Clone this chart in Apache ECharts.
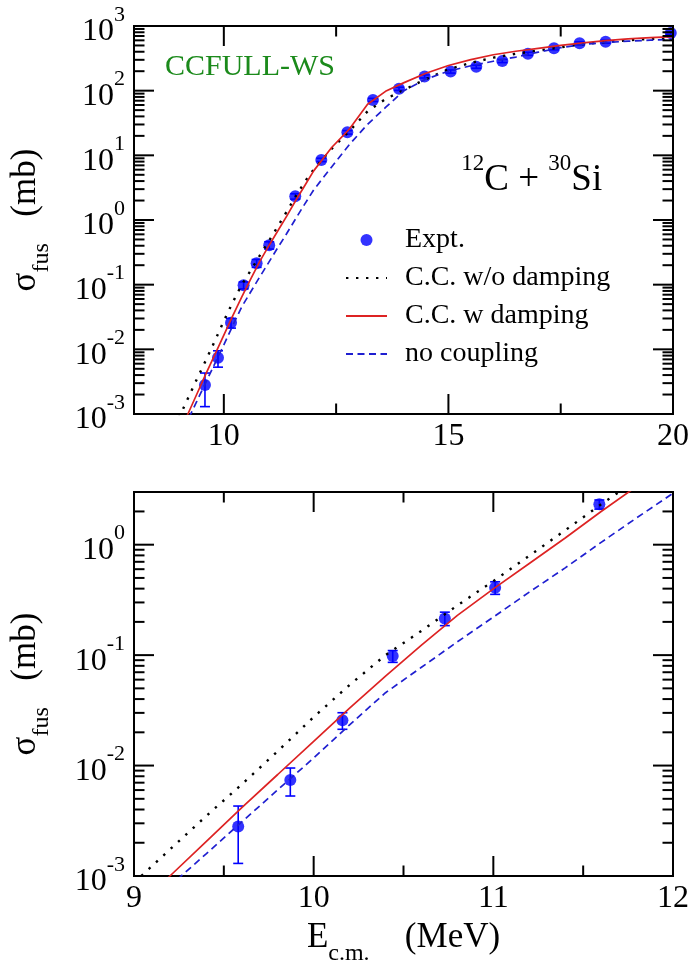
<!DOCTYPE html>
<html>
<head>
<meta charset="utf-8">
<script src="https://cdn.jsdelivr.net/npm/echarts@6/dist/echarts.min.js"></script>
<style>
  html, body { margin: 0; padding: 0; background: #fff; }
  #chart { width: 693px; height: 967px; }
</style>
</head>
<body>
<div id="chart"></div>
<script>
// Fusion excitation function for 12C + 30Si (CCFULL, Woods-Saxon potential)

// Measured cross sections (mb) with symmetric errors
const exptEnergy = [9.58, 9.87, 10.16, 10.44, 10.73, 11.01, 11.59, 12.17, 12.75, 13.32,
                    13.90, 14.47, 15.05, 15.62, 16.20, 16.77, 17.35, 17.92, 18.50, 19.95];
const exptSigma  = [2.8e-3, 7.4e-3, 0.0257, 0.098, 0.215, 0.408, 2.32, 8.5, 22.7, 72,
                    107, 166, 198, 235, 288, 372, 452, 540, 573, 780];
const exptError  = [1.5e-3, 2.1e-3, 4.4e-3, 0.012, 0.03, 0.053, 0.22, 0.5, 1.4, 4,
                    6, 9, 11, 13, 16, 20, 24, 28, 30, 40];

// Calculated cross sections (mb)
const curveEnergy = [9.0, 9.2, 9.4, 9.6, 9.8, 10.0, 10.2, 10.4, 10.6, 10.8, 11.0, 11.2, 11.4,
                     11.6, 11.8, 12.0, 12.4, 12.8, 13.2, 13.6, 14.0, 14.5, 15.0, 15.5, 16.0,
                     16.5, 17.0, 17.5, 18.0, 18.5, 19.0, 19.5, 20.0];
const sigmaNoDamping = [8.7e-4, 1.74e-3, 3.47e-3, 6.76e-3, 0.0135, 0.0275, 0.0537, 0.100, 0.166,
                        0.282, 0.468, 0.794, 1.35, 2.32, 3.89, 6.03, 12.6, 24.0, 47.9, 74.1,
                        102, 151, 214, 269, 324, 372, 417, 468, 525, 562, 603, 631, 661];
const sigmaDamping   = [4.8e-4, 1.0e-3, 2.04e-3, 4.17e-3, 8.3e-3, 0.0166, 0.0331, 0.0646, 0.123,
                        0.229, 0.398, 0.676, 1.15, 2.0, 3.39, 5.75, 13.2, 25.7, 61.7, 97.7,
                        132, 186, 245, 302, 359, 407, 452, 501, 550, 596, 631, 661, 684];
const sigmaNoCoupling = [4.2e-4, 8.1e-4, 1.58e-3, 3.09e-3, 6.03e-3, 0.0117, 0.0234, 0.0457, 0.0776,
                         0.132, 0.221, 0.372, 0.617, 1.05, 1.76, 2.92, 6.61, 14.8, 30.2, 55.0,
                         99, 151, 200, 243, 285, 331, 394, 462, 519, 556, 582, 603, 624];

// Axis ranges and ticks
const topXRange = [8, 20];
const topYRange = [1e-3, 1e3];
const bottomXRange = [9, 12];
const bottomYRange = [1e-3, 3];
const topXMajor = [10, 15, 20];
const topXMinor = [12.5, 17.5];
const topYMajor = [1e-3, 1e-2, 1e-1, 1, 10, 100, 1000];
const bottomXMajor = [9, 10, 11, 12];
const bottomXMinor = [9.5, 10.5, 11.5];
const bottomYMajor = [1e-3, 1e-2, 1e-1, 1];
const mantissas = [2, 3, 4, 5, 6, 7, 8, 9];

const serif = "'Liberation Serif', 'Times New Roman', serif";
const black = '#000';

function logMinor(decades, maxVal) {
  const out = [];
  decades.forEach(d => mantissas.forEach(m => {
    const v = m * d;
    if (v < maxVal) out.push(v);
  }));
  return out;
}
const topYMinor = logMinor(topYMajor.slice(0, -1), topYRange[1]);
const bottomYMinor = logMinor(bottomYMajor, bottomYRange[1]);

// Axis titles: base text on top of a tall line box, subscript sitting at its bottom
const titleRich = {
  z: { fontSize: 1, lineHeight: 46 },
  b: { fontFamily: serif, fontSize: 35, lineHeight: 35, color: black, verticalAlign: 'top' },
  s: { fontFamily: serif, fontSize: 24, lineHeight: 24, color: black, verticalAlign: 'bottom' }
};

function xAxis(gi, range, labels, extra) {
  return Object.assign({
    type: 'value', gridIndex: gi, min: range[0], max: range[1],
    splitLine: { show: false },
    axisLine: { show: true, onZero: false, lineStyle: { color: black, width: 2 } },
    axisTick: { show: false },
    axisLabel: { show: true, customValues: labels, margin: 7, color: black,
                 fontFamily: serif, fontSize: 32 }
  }, extra || {});
}

function yAxis(gi, range, labels) {
  return {
    type: 'log', logBase: 10, gridIndex: gi, min: range[0], max: range[1],
    splitLine: { show: false },
    axisLine: { show: true, onZero: false, lineStyle: { color: black, width: 2 } },
    axisTick: { show: false },
    axisLabel: {
      show: true, customValues: labels, margin: 9,
      formatter: v => '{z| }{b|10}{e|' + Math.round(Math.log10(v)) + '}',
      rich: {
        z: { fontSize: 1, lineHeight: 44 },
        b: { fontFamily: serif, fontSize: 32, lineHeight: 32, color: black, verticalAlign: 'bottom' },
        e: { fontFamily: serif, fontSize: 22, lineHeight: 22, color: black, verticalAlign: 'top' }
      }
    },
    name: '{b|σ}{s|fus}{z| }{b|   (mb)}',
    nameLocation: 'middle',
    nameGap: 80,
    nameTextStyle: { rich: titleRich }
  };
}

// Inward ticks on all four sides of a panel
function renderTicks(params, api) {
  const kind = api.value(2);
  const cs = params.coordSys;
  const p = api.coord([api.value(0), api.value(1)]);
  const len = (kind === 0 || kind === 2) ? 20 : 10.5;
  let segs;
  if (kind < 2) {
    const x = p[0];
    segs = [[x, cs.y + cs.height, x, cs.y + cs.height - len], [x, cs.y, x, cs.y + len]];
  } else {
    const y = p[1];
    segs = [[cs.x, y, cs.x + len, y], [cs.x + cs.width, y, cs.x + cs.width - len, y]];
  }
  return {
    type: 'group',
    children: segs.map(s => ({
      type: 'line', shape: { x1: s[0], y1: s[1], x2: s[2], y2: s[3] },
      style: { stroke: black, lineWidth: 2, fill: null }
    }))
  };
}

function tickData(xMajor, xMinor, yMajor, yMinor, xRef, yRef) {
  return [].concat(
    xMajor.map(v => [v, yRef, 0]),
    xMinor.map(v => [v, yRef, 1]),
    yMajor.map(v => [xRef, v, 2]),
    yMinor.map(v => [xRef, v, 3])
  );
}

function renderErrorBar(params, api) {
  const x = api.value(0);
  const pLo = api.coord([x, api.value(1)]);
  const pHi = api.coord([x, api.value(2)]);
  const cap = 5;
  const style = { stroke: '#0000ff', lineWidth: 1.6, fill: null };
  return {
    type: 'group',
    children: [
      { type: 'line', shape: { x1: pLo[0], y1: pLo[1], x2: pHi[0], y2: pHi[1] }, style: style },
      { type: 'line', shape: { x1: pLo[0] - cap, y1: pLo[1], x2: pLo[0] + cap, y2: pLo[1] }, style: style },
      { type: 'line', shape: { x1: pHi[0] - cap, y1: pHi[1], x2: pHi[0] + cap, y2: pHi[1] }, style: style }
    ]
  };
}

const curveDefs = [
  { name: 'C.C. w/o damping', values: sigmaNoDamping,
    lineStyle: { color: '#000', width: 2.4, type: [2.4, 7.6] } },
  { name: 'C.C. w damping', values: sigmaDamping,
    lineStyle: { color: '#dd2323', width: 1.7 } },
  { name: 'no coupling', values: sigmaNoCoupling,
    lineStyle: { color: '#1f1fd0', width: 1.7, type: [7, 4.5] } }
];

function seriesFor(gi, ticks) {
  const list = [
    {
      type: 'custom', xAxisIndex: gi, yAxisIndex: gi, clip: false, z: 5,
      renderItem: renderTicks, encode: { x: 0, y: 1 }, data: ticks
    },
    {
      name: 'Expt.', type: 'scatter', xAxisIndex: gi, yAxisIndex: gi,
      symbol: 'circle', symbolSize: 12, itemStyle: { color: '#0000ff' }, z: 3,
      data: exptEnergy.map((e, i) => [e, exptSigma[i]])
    },
    {
      type: 'custom', xAxisIndex: gi, yAxisIndex: gi, clip: true, z: 2,
      renderItem: renderErrorBar,
      encode: { x: 0, y: [1, 2] },
      data: exptEnergy.map((e, i) => [e, exptSigma[i] - exptError[i], exptSigma[i] + exptError[i]])
    }
  ];
  curveDefs.forEach(c => list.push({
    name: c.name, type: 'line', xAxisIndex: gi, yAxisIndex: gi,
    symbol: 'none', showSymbol: false, clip: true, z: 4,
    lineStyle: c.lineStyle, itemStyle: { color: c.lineStyle.color },
    data: curveEnergy.map((e, i) => [e, c.values[i]])
  }));
  return list;
}

const chart = echarts.init(document.getElementById('chart'), null, { renderer: 'canvas' });

chart.setOption({
  animation: false,
  backgroundColor: '#fff',
  grid: [
    { left: 133, top: 26, width: 540, height: 388, show: true, borderColor: black, borderWidth: 2 },
    { left: 133, top: 492, width: 540, height: 388, show: true, borderColor: black, borderWidth: 2 }
  ],
  xAxis: [
    xAxis(0, topXRange, topXMajor),
    xAxis(1, bottomXRange, bottomXMajor, {
      name: '{b|E}{s|c.m.}{z| }{b|    (MeV)}',
      nameLocation: 'middle',
      nameGap: 44,
      nameTextStyle: { rich: titleRich }
    })
  ],
  yAxis: [
    yAxis(0, topYRange, topYMajor),
    yAxis(1, bottomYRange, bottomYMajor)
  ],
  legend: {
    orient: 'vertical',
    left: 340, top: 221,
    itemWidth: 41, itemHeight: 12, itemGap: 10,
    selectedMode: false,
    data: [
      { name: 'Expt.', icon: 'circle' },
      { name: 'C.C. w/o damping', itemStyle: { opacity: 0 } },
      { name: 'C.C. w damping', itemStyle: { opacity: 0 } },
      { name: 'no coupling', itemStyle: { opacity: 0 } }
    ],
    textStyle: { fontFamily: serif, fontSize: 28, lineHeight: 28, color: black, padding: [0, 0, 0, 13] }
  },
  graphic: [
    {
      type: 'text', x: 165, y: 67,
      style: {
        text: 'CCFULL-WS', fill: '#1b8a1b', font: '30px ' + serif,
        align: 'left', verticalAlign: 'middle', textAlign: 'left', textVerticalAlign: 'middle'
      }
    },
    {
      type: 'text', x: 461, y: 175.5,
      style: {
        text: '{z| }{s|12}{b|C + }{s|30}{b|Si}',
        align: 'left', verticalAlign: 'middle', textAlign: 'left', textVerticalAlign: 'middle',
        rich: {
          z: { fontSize: 1, lineHeight: 47 },
          b: { fontFamily: serif, fontSize: 37, lineHeight: 37, fill: black, verticalAlign: 'bottom' },
          s: { fontFamily: serif, fontSize: 23, lineHeight: 23, fill: black, verticalAlign: 'top' }
        }
      }
    }
  ],
  series: [].concat(
    seriesFor(0, tickData(topXMajor, topXMinor, topYMajor, topYMinor, topXRange[0], topYRange[0])),
    seriesFor(1, tickData(bottomXMajor, bottomXMinor, bottomYMajor, bottomYMinor, bottomXRange[0], bottomYRange[0]))
  )
});
</script>
</body>
</html>
